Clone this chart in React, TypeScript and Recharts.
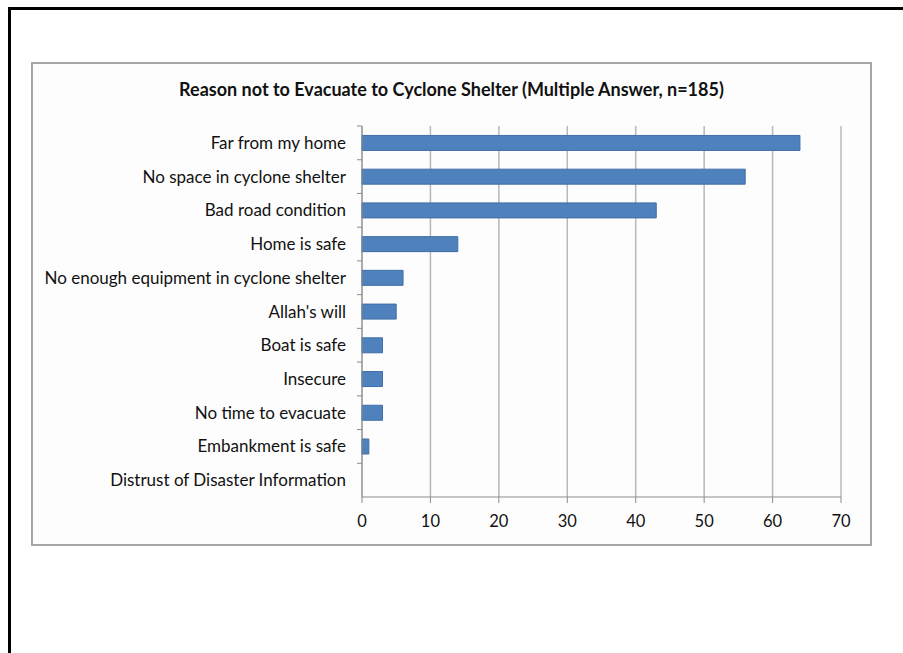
import React from "react";
import { BarChart, Bar, XAxis, YAxis, CartesianGrid } from "recharts";

const categories = [
  "Far from my home",
  "No space in cyclone shelter",
  "Bad road condition",
  "Home is safe",
  "No enough equipment in cyclone shelter",
  "Allah's will",
  "Boat is safe",
  "Insecure",
  "No time to evacuate",
  "Embankment is safe",
  "Distrust of Disaster Information",
];
const counts = [64, 56, 43, 14, 6, 5, 3, 3, 3, 1, 0];
const xTicks = [0, 10, 20, 30, 40, 50, 60, 70];
const title = "Reason not to Evacuate to Cyclone Shelter (Multiple Answer, n=185)";

const data = categories.map((name, i) => ({ name, value: counts[i] }));

const FONT = "Lato, 'Noto Sans', sans-serif";
const CHART_W = 841;
const CHART_H = 484;
const MARGIN = { top: 63, right: 31, bottom: 20, left: 0 };
const YAXIS_W = 331;
const XAXIS_H = 30;
const PLOT_H = CHART_H - MARGIN.top - MARGIN.bottom - XAXIS_H;
const BAND = PLOT_H / categories.length;

const YTick = (props: any) => {
  const { x, y, payload } = props;
  return (
    <g>
      <line x1={x + 3} x2={x + 8} y1={y - BAND / 2} y2={y - BAND / 2} stroke="#8c8c8c" />
      <text x={x - 8} y={y} dy={6} textAnchor="end" fontFamily={FONT} fontSize={17} fill="#111">
        {payload.value}
      </text>
    </g>
  );
};

export default function App() {
  return (
    <div style={{ position: "absolute", left: 0, top: 0, width: 903, height: 653, background: "#fff" }}>
      <div
        style={{
          position: "absolute",
          left: 8,
          top: 7,
          right: 0,
          bottom: 0,
          borderTop: "3px solid #000",
          borderLeft: "3px solid #000",
        }}
      />
      <div
        style={{
          position: "absolute",
          left: 31,
          top: 62,
          width: CHART_W,
          height: CHART_H,
          border: "2px solid #a6a6a6",
          boxSizing: "border-box",
          background: "#fdfdfd",
        }}
      >
        <div
          style={{
            position: "absolute",
            left: 0,
            right: 0,
            top: 14,
            textAlign: "center",
            fontFamily: FONT,
            fontWeight: 700,
            fontSize: 18,
            color: "#111",
          }}
        >
          {title}
        </div>
        <div style={{ position: "absolute", left: -2, top: -1 }}>
          <BarChart
            width={CHART_W}
            height={CHART_H}
            data={data}
            layout="vertical"
            margin={MARGIN}
            barCategoryGap="28%"
          >
            <CartesianGrid horizontal={false} vertical={true} stroke="#b8b8b8" strokeWidth={1.5} />
            <XAxis
              type="number"
              domain={[0, 70]}
              ticks={xTicks}
              interval={0}
              height={XAXIS_H}
              stroke="#8c8c8c"
              tickSize={6}
              tickMargin={12}
              tick={{ fontFamily: FONT, fontSize: 16.5, fill: "#111" }}
            />
            <YAxis
              type="category"
              dataKey="name"
              width={YAXIS_W}
              stroke="#8c8c8c"
              tickLine={false}
              tick={<YTick />}
              interval={0}
            />
            <Bar
              dataKey="value"
              fill="#4f81bd"
              stroke="#3f6fa8"
              strokeWidth={1}
              isAnimationActive={false}
            />
          </BarChart>
        </div>
      </div>
    </div>
  );
}
